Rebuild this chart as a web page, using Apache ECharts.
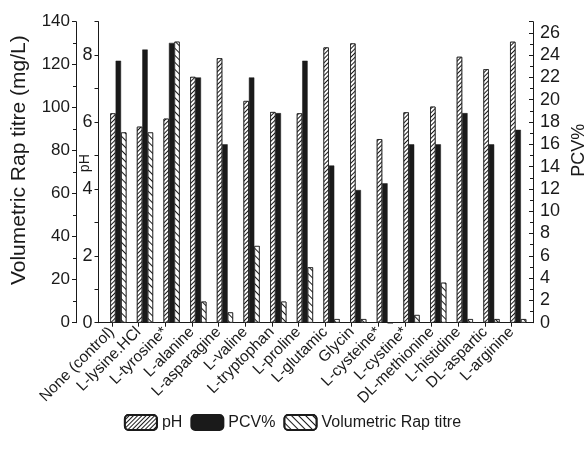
<!DOCTYPE html>
<html>
<head>
<meta charset="utf-8">
<script src="https://cdn.jsdelivr.net/npm/echarts@6/dist/echarts.min.js"></script>
<style>
html, body { margin: 0; padding: 0; background: #fff; }
#canvas { width: 585px; height: 454px; }
</style>
</head>
<body>
<div id="canvas"></div>
<script>
var categories = ['None (control)', 'L-lysine.HCl', 'L-tyrosine*', 'L-alanine', 'L-asparagine', 'L-valine',
    'L-tryptophan', 'L-proline', 'L-glutamic', 'Glycin', 'L-cysteine*', 'L-cystine*', 'DL-methionine',
    'L-histidine', 'DL-aspartic', 'L-arginine'];
var phValues = [6.26, 5.86, 6.10, 7.35, 7.91, 6.63, 6.30, 6.26, 8.23, 8.35, 5.49, 6.29, 6.46, 7.95, 7.58, 8.40];
var pcvValues = [23.5, 24.5, 25.1, 22.0, 16.0, 22.0, 18.8, 23.5, 14.1, 11.9, 12.5, 16.0, 16.0, 18.8, 16.0, 17.3];
var titreValues = [88.5, 88.5, 130.7, 9.8, 4.8, 35.7, 9.8, 25.8, 1.7, 1.7, 0, 3.6, 18.6, 1.7, 1.7, 1.7];

var phTicks = [0, 2, 4, 6, 8];
var pcvTicks = [0, 2, 4, 6, 8, 10, 12, 14, 16, 18, 20, 22, 24, 26];
var titreTicks = [0, 20, 40, 60, 80, 100, 120, 140];

var FONT = '"Liberation Sans", Arial, sans-serif';
var INK = '#1a1a1a';

function pairs(arr) {
    return arr.map(function (v, i) { return [i, v]; });
}
var catIndex = categories.map(function (c, i) { return i; });

var myChart = echarts.init(document.getElementById('canvas'));
option = {
    backgroundColor: '#fff',
    animation: false,
    textStyle: { fontFamily: FONT, color: INK },
    grid: {
        left: 98.5,
        right: 52,
        top: 21.7,
        bottom: 131.3,
        outerBoundsMode: 'none'
    },
    legend: {
        bottom: 18,
        left: 'center',
        itemWidth: 32,
        itemHeight: 15,
        itemGap: 8,
        textStyle: { fontSize: 16, color: INK, fontFamily: FONT },
        data: ['pH', 'PCV%', 'Volumetric Rap titre']
    },
    xAxis: [{
        // axis carrying the category names and ticks
        type: 'value',
        min: -0.5,
        max: 15.8,
        position: 'bottom',
        axisLine: { show: true, onZero: false, lineStyle: { color: INK, width: 1 } },
        axisTick: { show: true, customValues: catIndex, length: 4, lineStyle: { color: INK } },
        axisLabel: {
            customValues: catIndex,
            rotate: 45,
            margin: 7,
            fontSize: 15.5,
            color: INK,
            fontFamily: FONT,
            formatter: function (v) { return categories[v]; }
        },
        splitLine: { show: false }
    }, {
        // hidden axis for the bars, groups sit to the right of the ticks
        type: 'value',
        min: -0.744,
        max: 15.556,
        show: false
    }],
    yAxis: [{
        name: 'pH',
        nameLocation: 'middle',
        nameGap: 6,
        nameMoveOverlap: false,
        nameTextStyle: { fontSize: 14, color: INK, fontFamily: FONT, padding: [0, 0, 0, 18] },
        type: 'value',
        position: 'left',
        min: 0,
        max: 9,
        interval: 1,
        axisLine: { show: true, onZero: false, lineStyle: { color: INK, width: 1 } },
        axisTick: { show: true, length: 4, lineStyle: { color: INK } },
        axisLabel: {
            fontSize: 18, color: INK, margin: 6, fontFamily: FONT,
            formatter: function (v) { return phTicks.indexOf(v) >= 0 ? v : ''; }
        },
        splitLine: { show: false }
    }, {
        name: 'Volumetric Rap titre (mg/L)',
        nameLocation: 'middle',
        nameGap: 46,
        nameMoveOverlap: false,
        nameTextStyle: { fontSize: 21, color: INK, fontFamily: FONT, padding: [0, 0, 0, 24] },
        type: 'value',
        position: 'left',
        offset: 22.5,
        min: 0,
        max: 140,
        interval: 20,
        axisLine: { show: true, onZero: false, lineStyle: { color: INK, width: 1 } },
        axisTick: { show: true, length: 4, lineStyle: { color: INK } },
        minorTick: { show: true, splitNumber: 2, length: 3, lineStyle: { color: INK } },
        axisLabel: {
            fontSize: 17, color: INK, margin: 6, fontFamily: FONT,
            formatter: function (v) { return titreTicks.indexOf(v) >= 0 ? v : ''; }
        },
        splitLine: { show: false }
    }, {
        name: 'PCV%',
        nameLocation: 'middle',
        nameGap: 37,
        nameRotate: 90,
        nameMoveOverlap: false,
        nameTextStyle: { fontSize: 18, color: INK, fontFamily: FONT, padding: [0, 0, 0, 44] },
        type: 'value',
        position: 'right',
        min: 0,
        max: 27,
        interval: 2,
        axisLine: { show: true, onZero: false, lineStyle: { color: INK, width: 1 } },
        axisTick: { show: true, inside: true, length: 4, lineStyle: { color: INK } },
        minorTick: { show: true, splitNumber: 2, length: 3, lineStyle: { color: INK } },
        axisLabel: {
            fontSize: 18, color: INK, margin: 7, fontFamily: FONT,
            formatter: function (v) { return pcvTicks.indexOf(v) >= 0 ? v : ''; }
        },
        splitLine: { show: false }
    }],
    series: [{
        name: 'pH',
        type: 'bar',
        xAxisIndex: 1,
        yAxisIndex: 0,
        barWidth: 5.4,
        barGap: '0%',
        itemStyle: {
            color: '#fff',
            borderColor: INK,
            borderWidth: 0.8,
            decal: {
                symbol: 'rect',
                symbolSize: 1,
                color: INK,
                backgroundColor: '#fff',
                dashArrayX: [1, 0],
                dashArrayY: [1, 2],
                rotation: -Math.PI / 4
            }
        },
        data: pairs(phValues)
    }, {
        name: 'PCV%',
        type: 'bar',
        xAxisIndex: 1,
        yAxisIndex: 2,
        barWidth: 5.4,
        barGap: '0%',
        itemStyle: { color: INK, borderColor: INK, borderWidth: 0.5 },
        data: pairs(pcvValues)
    }, {
        name: 'Volumetric Rap titre',
        type: 'bar',
        xAxisIndex: 1,
        yAxisIndex: 1,
        barWidth: 5.4,
        barGap: '0%',
        itemStyle: {
            color: '#fff',
            borderColor: INK,
            borderWidth: 0.8,
            decal: {
                symbol: 'rect',
                symbolSize: 1,
                color: INK,
                backgroundColor: '#fff',
                dashArrayX: [1, 0],
                dashArrayY: [1, 3.5],
                rotation: Math.PI / 4
            }
        },
        data: pairs(titreValues)
    }]
};
myChart.setOption(option);
</script>
</body>
</html>
